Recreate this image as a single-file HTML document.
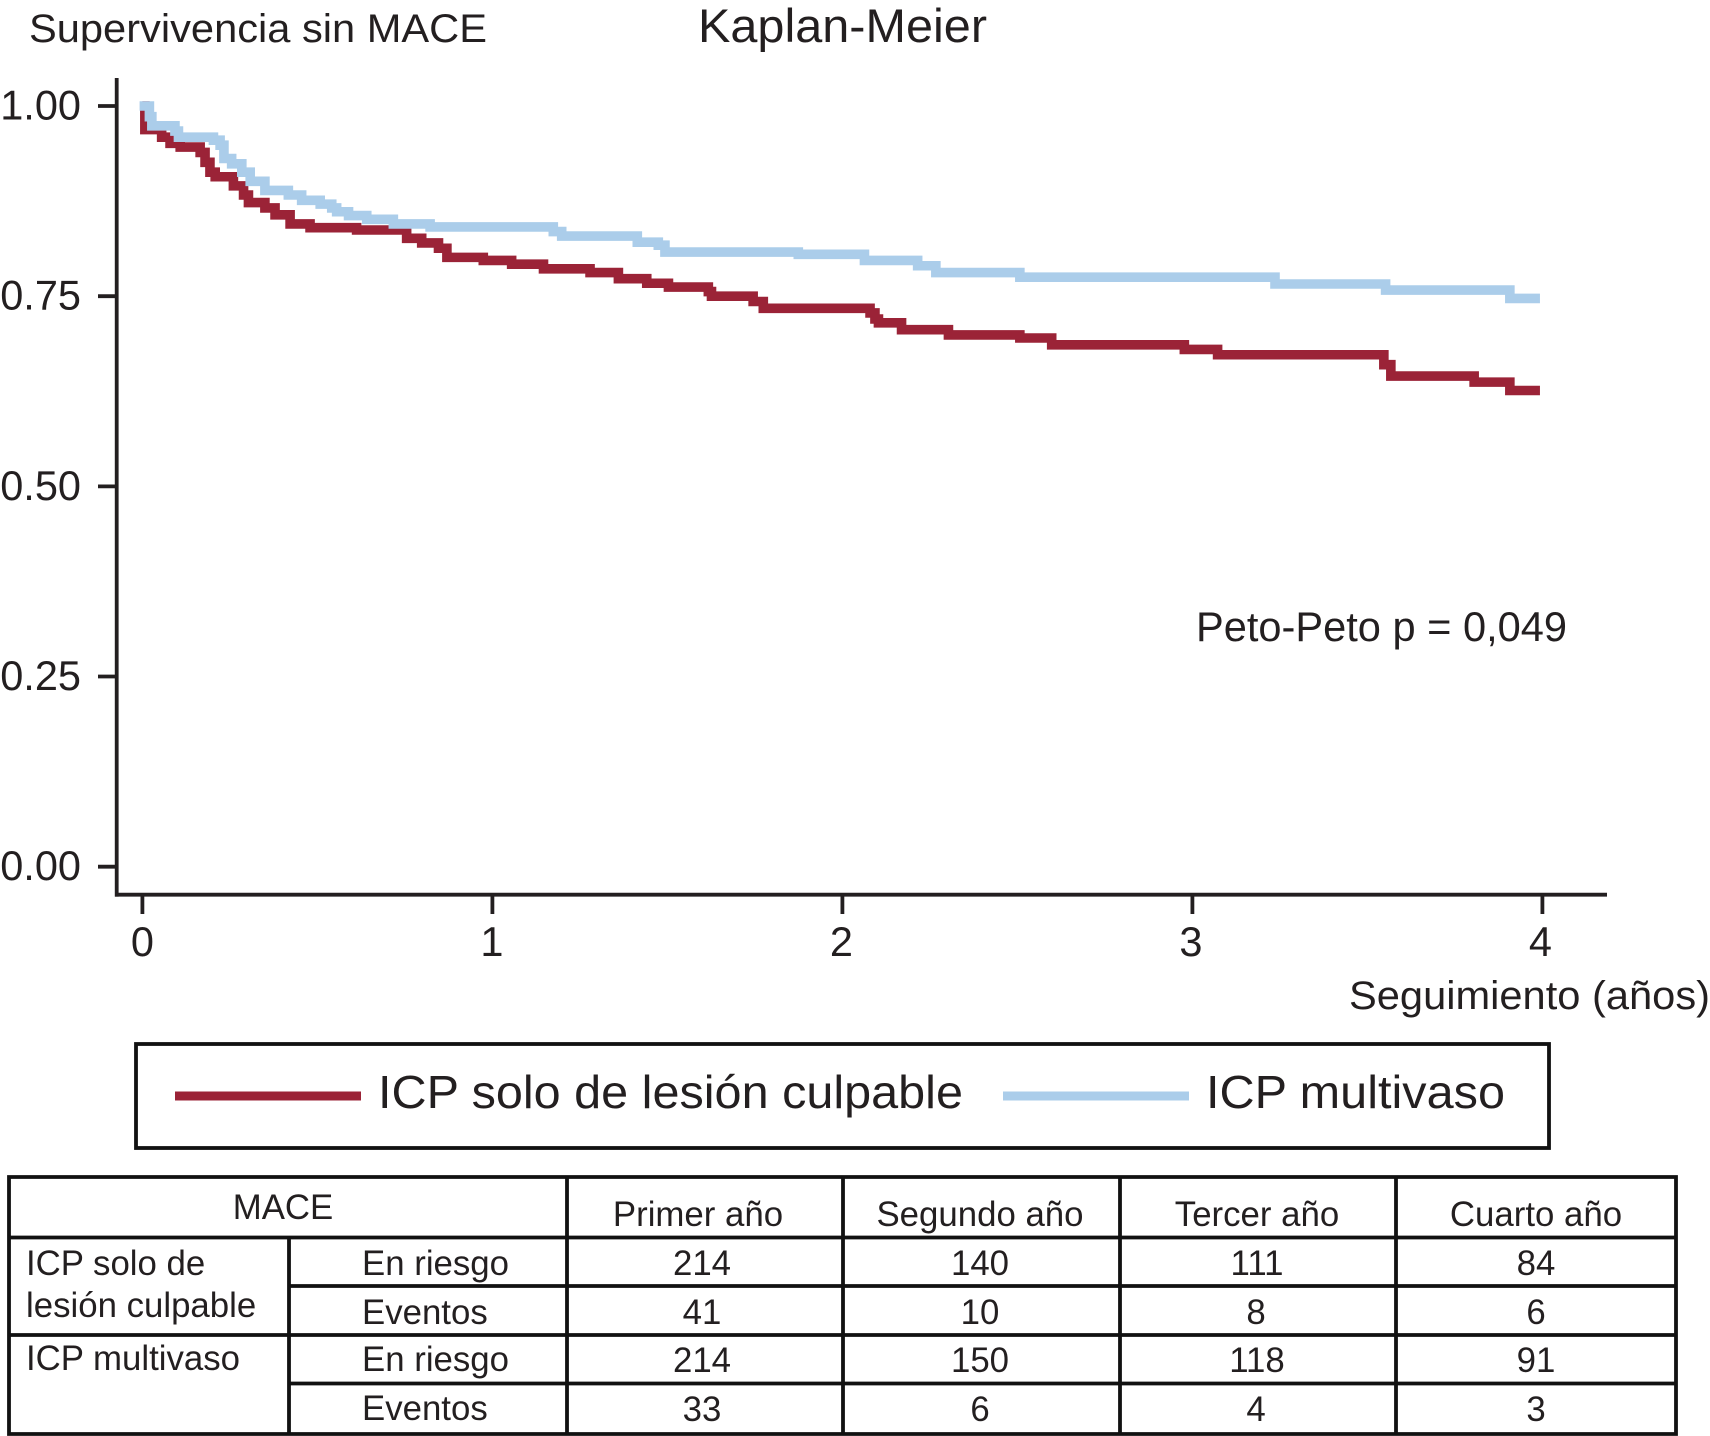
<!DOCTYPE html>
<html lang="es">
<head>
<meta charset="utf-8">
<title>Kaplan-Meier</title>
<style>
html,body{margin:0;padding:0;background:#fff;width:1710px;height:1436px;overflow:hidden}
svg{display:block}
text{font-family:"Liberation Sans",sans-serif;fill:#231f20}
.t{font-size:34.8px}
</style>
</head>
<body>
<svg id="chart" xmlns="http://www.w3.org/2000/svg" width="1710" height="1436" viewBox="0 0 1710 1436">
  <rect width="1710" height="1436" fill="#fff"/>
  <text x="29" y="42" font-size="40" textLength="458" lengthAdjust="spacingAndGlyphs">Supervivencia sin MACE</text>
  <text x="698" y="42" font-size="47.5" textLength="289" lengthAdjust="spacingAndGlyphs">Kaplan-Meier</text>
  <g id="plot"></g>
  <text x="1349" y="1009" font-size="40" textLength="361" lengthAdjust="spacingAndGlyphs">Seguimiento (años)</text>
  <text x="1196" y="641" font-size="41.5" textLength="371" lengthAdjust="spacingAndGlyphs">Peto-Peto p = 0,049</text>

  <g>
    <rect x="136" y="1044" width="1413" height="104" fill="#fff" stroke="#111" stroke-width="3.8"/>
    <rect x="175" y="1091.5" width="186" height="9" fill="#9b2337"/>
    <text x="378" y="1108" font-size="46" textLength="585" lengthAdjust="spacingAndGlyphs">ICP solo de lesión culpable</text>
    <rect x="1003" y="1091.5" width="186" height="9" fill="#abcdea"/>
    <text x="1206" y="1108" font-size="46" textLength="299" lengthAdjust="spacingAndGlyphs">ICP multivaso</text>
  </g>

  <g>
    <g stroke="#111" stroke-width="3.8" fill="none">
      <path d="M9 1177H1676V1434H9Z"/>
      <path d="M9 1237.5H1676M289 1286H1676M9 1335H1676M289 1383.5H1676"/>
      <path d="M289 1237.5V1434M567 1177V1434M843 1177V1434M1120 1177V1434M1396 1177V1434"/>
    </g>
    <g class="t">
      <text x="283" y="1219" text-anchor="middle">MACE</text>
      <text x="698" y="1226" text-anchor="middle">Primer año</text>
      <text x="980" y="1226" text-anchor="middle">Segundo año</text>
      <text x="1257" y="1226" text-anchor="middle">Tercer año</text>
      <text x="1536" y="1226" text-anchor="middle">Cuarto año</text>

      <text x="26" y="1275">ICP solo de</text>
      <text x="26" y="1317">lesión culpable</text>
      <text x="26" y="1370">ICP multivaso</text>

      <text x="362" y="1275">En riesgo</text>
      <text x="362" y="1324">Eventos</text>
      <text x="362" y="1371">En riesgo</text>
      <text x="362" y="1420">Eventos</text>

      <text x="702" y="1275" text-anchor="middle">214</text>
      <text x="980" y="1275" text-anchor="middle">140</text>
      <text x="1257" y="1275" text-anchor="middle">111</text>
      <text x="1536" y="1275" text-anchor="middle">84</text>

      <text x="702" y="1324" text-anchor="middle">41</text>
      <text x="980" y="1324" text-anchor="middle">10</text>
      <text x="1256" y="1324" text-anchor="middle">8</text>
      <text x="1536" y="1324" text-anchor="middle">6</text>

      <text x="702" y="1372" text-anchor="middle">214</text>
      <text x="980" y="1372" text-anchor="middle">150</text>
      <text x="1257" y="1372" text-anchor="middle">118</text>
      <text x="1536" y="1372" text-anchor="middle">91</text>

      <text x="702" y="1421" text-anchor="middle">33</text>
      <text x="980" y="1421" text-anchor="middle">6</text>
      <text x="1256" y="1421" text-anchor="middle">4</text>
      <text x="1536" y="1421" text-anchor="middle">3</text>
    </g>
  </g>
</svg>
<script>
const xTicks = [0, 1, 2, 3, 4];
const xTickLabels = ["0", "1", "2", "3", "4"];
const yTicks = [0, 0.25, 0.5, 0.75, 1];
const yTickLabels = ["0.00", "0.25", "0.50", "0.75", "1.00"];

const culpritTimes = [0, 0.007, 0.055, 0.079, 0.108, 0.165, 0.179, 0.193, 0.208, 0.260, 0.289, 0.303, 0.350, 0.379, 0.422, 0.479, 0.612, 0.755, 0.798, 0.846, 0.870, 0.974, 1.055, 1.146, 1.279, 1.360, 1.441, 1.503, 1.617, 1.626, 1.745, 1.774, 2.079, 2.093, 2.103, 2.169, 2.303, 2.507, 2.598, 2.977, 3.072, 3.547, 3.567, 3.805, 3.907, 3.993];
const culpritSurvival = [1, 0.969, 0.959, 0.951, 0.946, 0.939, 0.926, 0.913, 0.907, 0.895, 0.883, 0.873, 0.866, 0.857, 0.845, 0.840, 0.837, 0.826, 0.820, 0.813, 0.801, 0.797, 0.792, 0.786, 0.781, 0.773, 0.767, 0.762, 0.756, 0.750, 0.743, 0.734, 0.728, 0.720, 0.715, 0.706, 0.699, 0.695, 0.686, 0.680, 0.673, 0.660, 0.645, 0.637, 0.626, 0.626];

const multiTimes = [-0.008, 0.020, 0.027, 0.093, 0.103, 0.203, 0.222, 0.233, 0.255, 0.284, 0.308, 0.350, 0.417, 0.455, 0.508, 0.541, 0.555, 0.589, 0.641, 0.717, 0.822, 1.174, 1.198, 1.414, 1.474, 1.493, 1.874, 2.063, 2.215, 2.267, 2.507, 3.236, 3.552, 3.907, 3.993];
const multiSurvival = [1, 0.986, 0.974, 0.967, 0.959, 0.955, 0.9485, 0.931, 0.924, 0.913, 0.901, 0.889, 0.883, 0.876, 0.871, 0.866, 0.861, 0.856, 0.851, 0.845, 0.841, 0.835, 0.829, 0.821, 0.817, 0.808, 0.805, 0.797, 0.790, 0.781, 0.775, 0.766, 0.758, 0.747, 0.747];

const NS = "http://www.w3.org/2000/svg";
const plot = document.getElementById("plot");
const INK = "#231f20";

function xScale(t) { return 142.4 + t * 350; }
function yScale(s) { return 866.7 - s * 760.7; }

function stepPath(times, values) {
  let d = "M" + xScale(times[0]).toFixed(2) + " " + yScale(values[0]).toFixed(2);
  for (let i = 1; i < times.length; i++) {
    d += "H" + xScale(times[i]).toFixed(2);
    d += "V" + yScale(values[i]).toFixed(2);
  }
  return d;
}

function addLine(x1, y1, x2, y2, w) {
  const l = document.createElementNS(NS, "line");
  l.setAttribute("x1", x1);
  l.setAttribute("y1", y1);
  l.setAttribute("x2", x2);
  l.setAttribute("y2", y2);
  l.setAttribute("stroke", INK);
  l.setAttribute("stroke-width", w);
  plot.appendChild(l);
  return l;
}

function addLabel(x, y, anchor, str) {
  const t = document.createElementNS(NS, "text");
  t.setAttribute("x", x);
  t.setAttribute("y", y);
  t.setAttribute("text-anchor", anchor);
  t.setAttribute("font-size", "41.5");
  t.textContent = str;
  plot.appendChild(t);
  return t;
}

const yAxis = addLine(116.7, 78, 116.7, 896.6, 3.8);



const xAxis = addLine(115, 894.7, 1607, 894.7, 3.8);



yTicks.forEach(function (v, i) {
  const tick = addLine(98, yScale(v), 116, yScale(v), 3.8);
  
  
  const lab = addLabel(81, yScale(v) + 13.5, "end", yTickLabels[i]);
  
  
});

xTicks.forEach(function (v, i) {
  const tick = addLine(xScale(v), 895, xScale(v), 914, 3.8);
  
  
  const lab = addLabel(xScale(v) - v * 0.5, 956, "middle", xTickLabels[i]);
  
  
});

const culpritLine = document.createElementNS(NS, "path");
culpritLine.setAttribute("d", stepPath(culpritTimes, culpritSurvival));
culpritLine.setAttribute("fill", "none");
culpritLine.setAttribute("stroke", "#9b2337");
culpritLine.setAttribute("stroke-width", "9.6");


plot.appendChild(culpritLine);

const multiLine = document.createElementNS(NS, "path");
multiLine.setAttribute("d", stepPath(multiTimes, multiSurvival));
multiLine.setAttribute("fill", "none");
multiLine.setAttribute("stroke", "#abcdea");
multiLine.setAttribute("stroke-width", "9.6");


plot.appendChild(multiLine);
</script>
</body>
</html>
